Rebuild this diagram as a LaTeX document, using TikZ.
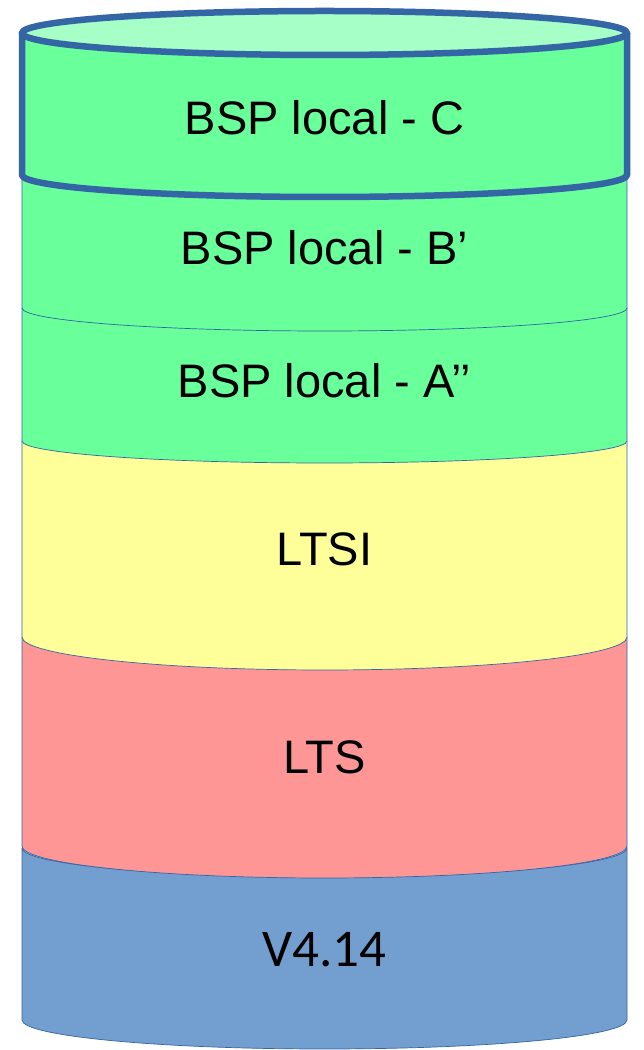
\documentclass[tikz,border=0pt]{standalone}
\usepackage{fontspec}
\setmainfont{Liberation Sans}
\newfontfamily\carlitofont{Carlito}
\definecolor{edgeblue}{HTML}{3465A4}
\definecolor{bspgreen}{HTML}{69FF9B}
\definecolor{bsptop}{HTML}{A6FFC6}
\definecolor{ltsiyellow}{HTML}{FFFF99}
\definecolor{ltsred}{HTML}{FF9696}
\definecolor{kblue}{HTML}{729FCF}
\definecolor{kbluetop}{HTML}{A9C6E8}
\newcommand{\cylbody}[4]{%
  \path[fill=#4] (22,#1) -- (22,#2) arc[start angle=180,end angle=360,x radius=302.5,y radius=#3] -- (627,#1) arc[start angle=0,end angle=180,x radius=302.5,y radius=#3] -- cycle;}
\newcommand{\cyltop}[3]{%
  \path[fill=#3] (324.5,#1) ellipse[x radius=302.5,y radius=#2];}
\newcommand{\cyledge}[3]{%
  \draw[#3] (22,#1) -- (22,#2) arc[start angle=180,end angle=360,x radius=302.5,y radius=#3] -- (627,#1);}
\begin{document}
\begin{tikzpicture}[x=1pt,y=1pt,
  thinedge/.style={draw=edgeblue,line width=0.7pt},
  thickedge/.style={draw=edgeblue,line width=6.5pt,line join=round},
  lbl/.style={font=\fontsize{47}{56}\selectfont,text=black,inner sep=0pt}]
\useasboundingbox (0,0) rectangle (644,1050);
\fill[white] (0,0) rectangle (644,1050);
% V4.14
\cylbody{202}{30}{29}{kblue}
\cyltop{202}{29}{kbluetop}
\draw[thinedge] (22,202) -- (22,30) arc[start angle=180,end angle=360,x radius=302.5,y radius=29] -- (627,202) arc[start angle=0,end angle=-180,x radius=302.5,y radius=29];
% LTS
\cylbody{413}{204}{32}{ltsred}
\cyltop{413}{32}{ltsred}
\draw[thinedge] (22,413) -- (22,204) arc[start angle=180,end angle=360,x radius=302.5,y radius=32] -- (627,413);
% LTSI
\cylbody{609}{413}{33}{ltsiyellow}
\cyltop{609}{33}{ltsiyellow}
\draw[thinedge] (22,609) -- (22,413) arc[start angle=180,end angle=360,x radius=302.5,y radius=33] -- (627,609);
% A''
\cylbody{742}{609}{22}{bspgreen}
\cyltop{742}{22}{bspgreen}
\draw[thinedge] (22,742) -- (22,609) arc[start angle=180,end angle=360,x radius=302.5,y radius=22] -- (627,742);
% B'
\cylbody{875}{742}{23}{bspgreen}
\cyltop{875}{23}{bspgreen}
\draw[thinedge] (22,875) -- (22,742) arc[start angle=180,end angle=360,x radius=302.5,y radius=23] -- (627,875);
% C
\cylbody{1017}{875}{22}{bspgreen}
\cyltop{1017}{22}{bsptop}
\draw[thickedge] (22,1017) -- (22,875) arc[start angle=180,end angle=360,x radius=302.5,y radius=22] -- (627,1017);
\draw[thickedge] (324.5,1017) ellipse[x radius=302.5,y radius=22];
% labels
\node[lbl] (c) at (324.5,932) {BSP local - C};
\node[lbl] (b) at (324.5,802) {BSP local - B’};
\node[lbl] (a) at (324.5,669) {BSP local - A’’};
\node[lbl] (ltsi) at (324.5,501) {LTSI};
\node[lbl] (lts) at (324.5,293) {LTS};
\node[lbl,font=\carlitofont\fontsize{53}{60}\selectfont] (v) at (324.5,100) {V4.14};
\end{tikzpicture}
\end{document}
